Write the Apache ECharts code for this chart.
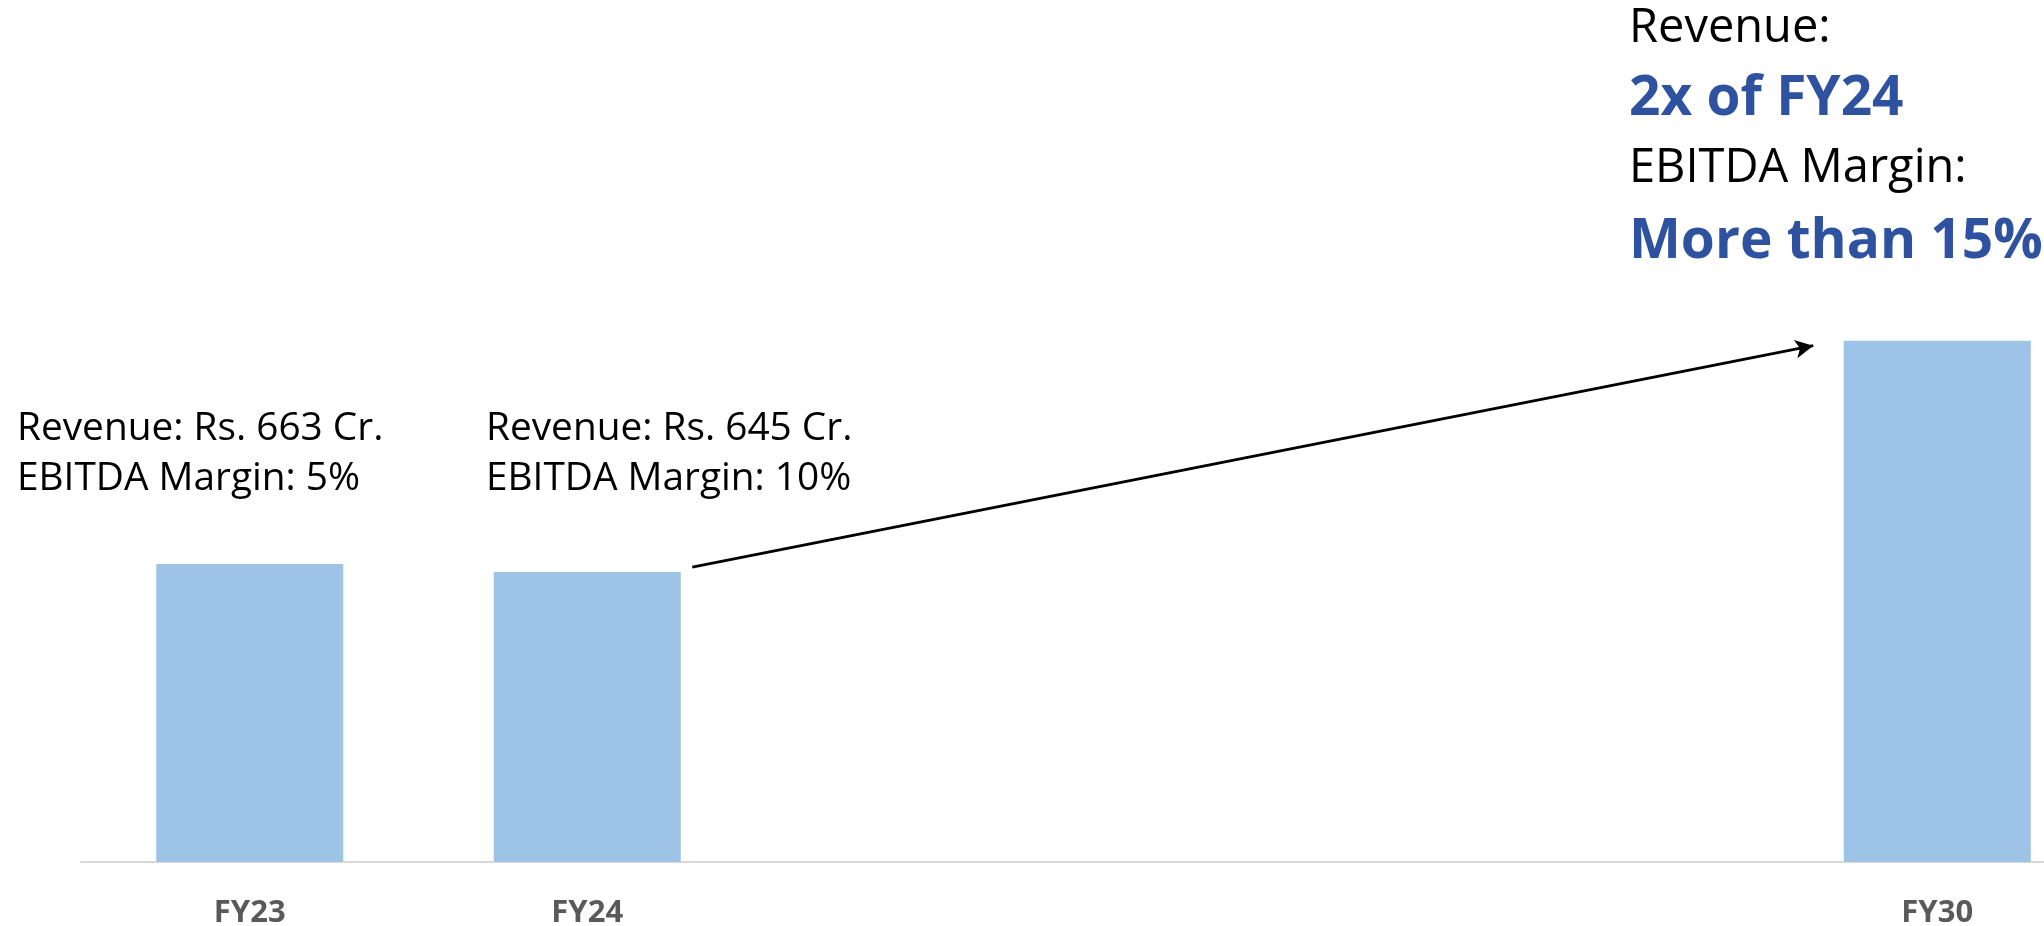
<!DOCTYPE html>
<html><head><meta charset="utf-8">
<script src="https://cdn.jsdelivr.net/npm/echarts@6/dist/echarts.min.js"></script>
<style>html,body{margin:0;padding:0;background:#fff}#c{width:2044px;height:926px}</style>
</head><body><div id="c"></div>
<script>
// ---- data ----
const categories = ['FY23', 'FY24', ' ', '  ', '   ', 'FY30'];
const revenue = [663, 645, null, null, null, 1160];
const ebitdaMargin = ['5%', '10%'];
const targetRevenue = '2x of FY24';
const targetMargin = 'More than 15%';

const FONT = 'Open Sans';
const BLUE = '#2F52A0';

const chart = echarts.init(document.getElementById('c'), null, {renderer: 'canvas'});

const leftBlockX = [17, 486];
const graphics = [];
for (let i = 0; i < 2; i++) {
  graphics.push({
    type: 'text', left: leftBlockX[i], top: 404, silent: true,
    style: {
      text: 'Revenue: Rs. ' + revenue[i] + ' Cr.\nEBITDA Margin: ' + ebitdaMargin[i],
      font: '38.8px "' + FONT + '"', fill: '#000', lineHeight: 50
    }
  });
}
const trLines = [
  {t: 'Revenue:', y: 29, bold: false},
  {t: targetRevenue, y: 99, bold: true},
  {t: 'EBITDA Margin:', y: 169, bold: false},
  {t: targetMargin, y: 242, bold: true}
];
trLines.forEach(l => {
  graphics.push({
    type: 'text', x: 1629, y: l.y, silent: true,
    style: {
      text: l.t,
      font: (l.bold ? 'bold 55px "' : '47px "') + FONT + '"',
      fill: l.bold ? BLUE : '#000',
      textVerticalAlign: 'middle', verticalAlign: 'middle'
    }
  });
});

chart.setOption({
  animation: false,
  backgroundColor: '#fff',
  grid: {left: 81, right: -62, top: 53, bottom: 64, outerBoundsMode: 'none', containLabel: false},
  xAxis: {
    type: 'category', data: categories,
    axisLine: {lineStyle: {color: '#D9D9D9', width: 2}},
    axisTick: {show: false},
    axisLabel: {color: '#595959', fontWeight: 'bold', fontSize: 31, fontFamily: FONT, margin: 36, interval: 0}
  },
  yAxis: {type: 'value', min: 0, max: 1800, show: false},
  series: [{
    type: 'bar', data: revenue, barWidth: 187,
    itemStyle: {color: '#9DC3E6'}
  }],
  graphic: graphics
});

const p1 = chart.convertToPixel({gridIndex: 0}, [1, revenue[1]]);
const p2 = chart.convertToPixel({gridIndex: 0}, [5, revenue[5]]);
chart.setOption({
  series: [{
    markLine: {
      silent: true, animation: false,
      symbol: ['none', 'arrow'], symbolSize: [14, 18],
      lineStyle: {color: '#000', width: 3, type: 'solid'},
      label: {show: false},
      emphasis: {disabled: true},
      data: [[{x: p1[0] + 105, y: p1[1] - 5}, {x: p2[0] - 124, y: p2[1] + 5}]]
    }
  }]
});
</script>
</body></html>
